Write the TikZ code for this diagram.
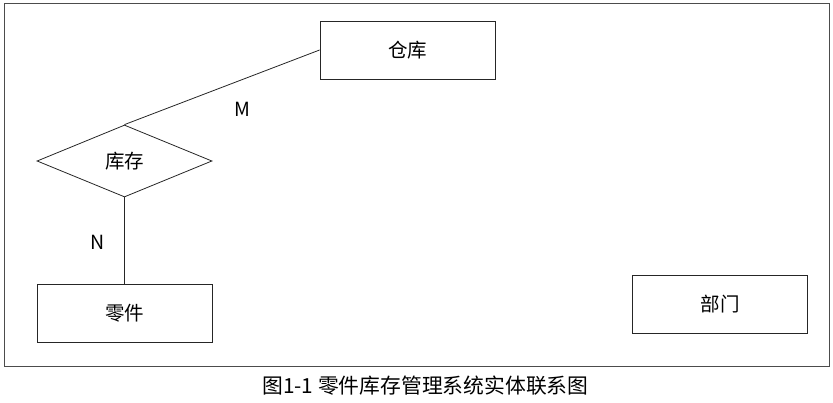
\documentclass[tikz,border=0pt]{standalone}
\usepackage{fontspec}
\setmainfont{Noto Sans CJK SC}
\usetikzlibrary{shapes.geometric}

\tikzset{
  entity/.style={draw=black!85, line width=0.8pt, rectangle, minimum width=175pt, minimum height=58pt, inner sep=0pt, font=\fontsize{19.5}{19.5}\selectfont},
  relation/.style={draw=black!85, line width=0.8pt, diamond, aspect=2.4, minimum width=175pt, minimum height=72pt, inner sep=0pt, font=\fontsize{19.5}{19.5}\selectfont},
  card/.style={font=\fontsize{19.5}{19.5}\selectfont},
  link/.style={draw=black!85, line width=0.8pt}
}

\begin{document}
\begin{tikzpicture}[x=1pt, y=-1pt]
    \useasboundingbox (0,0) rectangle (833,403);
    % outer frame
    \draw[black!70, line width=1pt] (4,4) rectangle (829,367);

    % entities and relationship
    \node[entity]   (warehouse) at (407.5,50)  {仓库};
    \node[relation] (stock)     at (124.5,161) {库存};
    \node[entity]   (part)      at (124.5,313) {零件};
    \node[entity]   (dept)      at (720,304)   {部门};

    % connectors with cardinalities
    \draw[link] (stock.north) -- (warehouse.west);
    \draw[link] (stock.south) -- (part.north);
    \node[card] (cardM) at (242,109) {M};
    \node[card] (cardN) at (98,242)  {N};

    % caption
    \node[font=\fontsize{20.8}{20.8}\selectfont] (caption) at (425.5,386) {图1-1 零件库存管理系统实体联系图};
\end{tikzpicture}
\end{document}
